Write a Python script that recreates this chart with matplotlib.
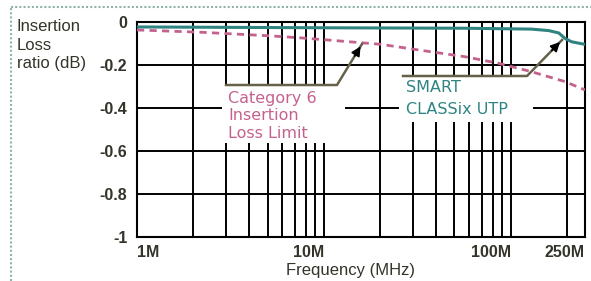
import matplotlib
matplotlib.use("Agg")
import matplotlib.pyplot as plt
from matplotlib.patches import Rectangle
from matplotlib.lines import Line2D

# values (frequency in MHz, insertion loss ratio in dB)
cat6_freq = [1, 2.24, 3.36, 5.05, 7.3, 10.6, 20.3, 30.4, 56.5, 86, 129, 195, 250]
cat6_loss = [-0.037, -0.048, -0.056, -0.064, -0.073, -0.084, -0.104, -0.127,
             -0.161, -0.192, -0.231, -0.277, -0.316]
smart_freq = [1, 10.9, 56.5, 129, 160, 181, 195, 212, 230, 250]
smart_loss = [-0.023, -0.027, -0.029, -0.033, -0.040, -0.051, -0.076, -0.092, -0.098, -0.104]

x_ticks = [1, 10, 100, 250]
x_labels = ["1M", "10M", "100M", "250M"]
y_ticks = [-1, -0.8, -0.6, -0.4, -0.2, 0]
y_labels = ["-1", "-0.8", "-0.6", "-0.4", "-0.2", "0"]
minor_x = [2, 3, 4, 5, 6, 7, 8, 9, 20, 30, 40, 50, 60, 70, 80, 90, 200]

PINK, TEAL, LEADER, TXT = "#c4628e", "#2f8482", "#66624a", "#34342a"
ARIAL = "Liberation Sans"

fig = plt.figure(figsize=(5.91, 2.81), dpi=100)
W, H = 591, 281
ax = fig.add_axes([137 / W, (H - 237) / H, 448 / W, 215 / H])
ax.set_xscale("log")
ax.set_xlim(1, 250)
ax.set_ylim(-1, 0)

# grid: every line black, same weight
for f in minor_x + [10, 100]:
    ax.axvline(f, color="black", lw=1.4, zorder=1)
for v in y_ticks[1:-1]:
    ax.axhline(v, color="black", lw=1.4, zorder=1)
for s in ax.spines.values():
    s.set_linewidth(1.5)

ax.set_xticks(x_ticks)
ax.set_xticklabels(x_labels, fontsize=11.5, fontweight="bold", family=ARIAL, color=TXT)
ax.xaxis.set_minor_locator(matplotlib.ticker.NullLocator())
ax.tick_params(axis="x", length=0, pad=6)
for i, lab in enumerate(ax.get_xticklabels()):
    lab.set_ha("left" if i == 0 else "right")
ax.set_yticks(y_ticks)
ax.set_yticklabels(y_labels, fontsize=11.5, fontweight="bold", family=ARIAL, color=TXT)
ax.tick_params(axis="y", length=0, pad=7)

ax.plot(cat6_freq, cat6_loss, color=PINK, lw=2, dashes=(2.6, 1.9), zorder=4)
ax.plot(smart_freq, smart_loss, color=TEAL, lw=2.2, zorder=4)


def px(x, y):
    # pixel position in the reference -> axes fraction
    return (x - 137) / 448, (237 - y) / 215


def callout(box, leader, tip, lines, color):
    (x0, y0), (x1, y1) = px(*box[0]), px(*box[1])
    ax.add_patch(Rectangle((x0, y1), x1 - x0, y0 - y1, transform=ax.transAxes,
                           fc="white", ec="none", zorder=3, clip_on=False))
    pts = [px(*p) for p in leader + [tip]]
    ax.plot([p[0] for p in pts], [p[1] for p in pts], color=LEADER, lw=1.8,
            transform=ax.transAxes, zorder=5, clip_on=False)
    (ax_, ay_), (bx, by) = pts[-2], pts[-1]
    ax.annotate("", xy=(bx, by), xytext=(bx - 0.35 * (bx - ax_), by - 0.35 * (by - ay_)),
                xycoords="axes fraction", textcoords="axes fraction",
                arrowprops=dict(arrowstyle="-|>", color="black", lw=1.2, mutation_scale=14),
                zorder=6)
    for tx, ty, t in lines:
        x, y = px(tx, ty)
        ax.text(x, y, t, transform=ax.transAxes, ha="left", va="center", fontsize=11.5,
                family="DejaVu Sans", color=color, zorder=6)


callout(((222, 85), (345, 143)), [(226, 85), (337, 85)], (362, 44),
        [(228, 98, "Category 6"), (228, 116, "Insertion"), (228, 133, "Loss Limit")], PINK)
callout(((399, 76), (533, 122)), [(403, 76), (527, 76)], (562, 40),
        [(406, 87, "SMART"), (406, 109, "CLASSix UTP")], TEAL)

fig.text(17 / W, (H - 19) / H, "Insertion\nLoss\nratio (dB)", ha="left", va="top",
         fontsize=12, family=ARIAL, color=TXT, linespacing=1.3)
fig.text(351 / W, (H - 270) / H, "Frequency (MHz)", ha="center", va="center",
         fontsize=12, family=ARIAL, color=TXT)

# dotted outer frame (top and left only)
frame = dict(color="#8fb3a8", lw=1.5, ls=(0, (1, 1)), transform=fig.transFigure)
fig.add_artist(Line2D([11 / W, 1], [(H - 7) / H] * 2, **frame))
fig.add_artist(Line2D([11 / W] * 2, [0, (H - 7) / H], **frame))

fig.savefig("out.png", dpi=100)
